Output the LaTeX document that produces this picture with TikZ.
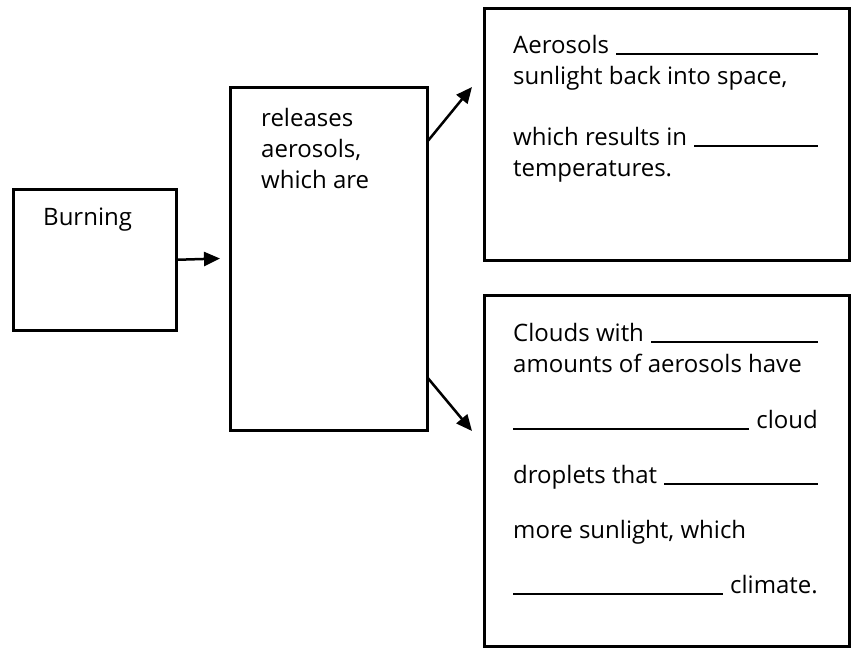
\documentclass[tikz,border=0pt]{standalone}
\usepackage{fontspec}
\setmainfont{Open Sans}
\usetikzlibrary{arrows.meta}
\begin{document}
\begin{tikzpicture}[x=1pt,y=-1pt,
  box/.style={draw,line width=2.5pt,inner sep=0pt,anchor=north west},
  txt/.style={inner sep=0pt,anchor=base west,font=\fontsize{24}{28}\selectfont},
  txtr/.style={inner sep=0pt,anchor=base east,font=\fontsize{24}{28}\selectfont},
  blank/.style={line width=2.2pt},
  arr/.style={line width=2.5pt,-{Triangle[length=16pt,width=14pt]}}]
\useasboundingbox (0,0) rectangle (851,648);
% boxes
\node[box,minimum width=163pt,minimum height=141pt] (burn) at (12,188) {};
\node[box,minimum width=197pt,minimum height=343pt] (mid) at (229,86) {};
\node[box,minimum width=365pt,minimum height=252pt] (topb) at (483,7) {};
\node[box,minimum width=365pt,minimum height=351pt] (botb) at (483,294) {};
\coordinate (R) at (818,0);
% texts
\node[txt] (tburn) at (43,225) {Burning};
\node[txt] (m1) at (261,126) {releases};
\node[txt] (m2) at (261,157) {aerosols,};
\node[txt] (m3) at (261,188) {which are};
\node[txt] (t1) at (513,53) {Aerosols};
\node[txt] (t2) at (513,84) {sunlight back into space,};
\node[txt] (t3) at (513,145) {which results in};
\node[txt] (t4) at (513,176) {temperatures.};
\node[txt] (b1) at (513,341) {Clouds with};
\node[txt] (b2) at (513,372) {amounts of aerosols have};
\node[txtr] (b3) at (818,428) {cloud};
\node[txt] (b4) at (513,483) {droplets that};
\node[txt] (b5) at (513,538) {more sunlight, which};
\node[txtr] (b6) at (818,593) {climate.};
% blanks
\draw[blank] ([xshift=7pt,yshift=-1pt]t1.base east) -- ([yshift=-1pt]t1.base east -| R);
\draw[blank] ([xshift=7pt,yshift=-1pt]t3.base east) -- ([yshift=-1pt]t3.base east -| R);
\draw[blank] ([xshift=7pt,yshift=-1pt]b1.base east) -- ([yshift=-1pt]b1.base east -| R);
\draw[blank] ([yshift=-1pt]b3.base west -| b2.base west) -- ([xshift=-7pt,yshift=-1pt]b3.base west);
\draw[blank] ([xshift=7pt,yshift=-1pt]b4.base east) -- ([yshift=-1pt]b4.base east -| R);
\draw[blank] ([yshift=-1pt]b6.base west -| b2.base west) -- ([xshift=-7pt,yshift=-1pt]b6.base west);
% arrows
\coordinate (a1e) at (220,258.5);
\coordinate (a2s) at (427,142);
\coordinate (a2e) at (472,87);
\coordinate (a3s) at (427,377);
\coordinate (a3e) at (472,431);
\draw[arr] (burn.east) -- (a1e);
\draw[arr] (a2s) -- (a2e);
\draw[arr] (a3s) -- (a3e);
\end{tikzpicture}
\end{document}
